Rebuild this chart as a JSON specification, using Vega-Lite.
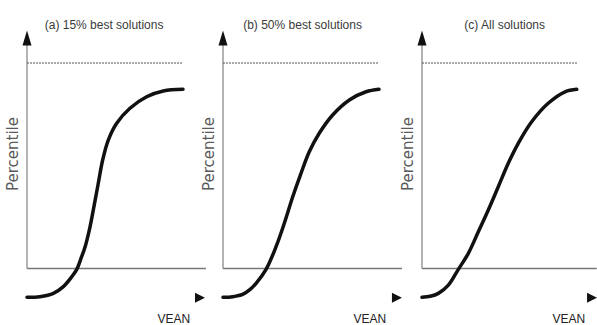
{
  "$schema": "https://vega.github.io/schema/vega-lite/v6.json",
  "padding": 0,
  "spacing": 0,
  "bounds": "flush",
  "background": "white",
  "config": {"view": {"stroke": null}},
  "data": {
    "values": [
      {"panel": "a", "kind": "yaxis", "x": 0, "y": 0, "y2": 1.09},
      {"panel": "a", "kind": "xaxis", "x": 0, "x2": 1.147, "y": 0},
      {"panel": "a", "kind": "ref", "x": 0, "x2": 0.994, "y": 1},
      {"panel": "a", "kind": "uparrow", "x": 0, "y": 1.122},
      {"panel": "a", "kind": "rightarrow", "x": 1.109, "y": -0.142},
      {"panel": "a", "kind": "title", "x": 0.494, "y": 1.185, "text": "(a) 15% best solutions"},
      {"panel": "a", "kind": "xlabel", "x": 0.942, "y": -0.246, "text": "VEAN"},
      {"panel": "a", "kind": "ylabel", "x": -0.09, "y": 0.557, "text": "Percentile"},
      {"panel": "a", "kind": "curve", "i": 0, "x": 0.0, "y": -0.14},
      {"panel": "a", "kind": "curve", "i": 1, "x": 0.083, "y": -0.137},
      {"panel": "a", "kind": "curve", "i": 2, "x": 0.169, "y": -0.121},
      {"panel": "a", "kind": "curve", "i": 3, "x": 0.233, "y": -0.088},
      {"panel": "a", "kind": "curve", "i": 4, "x": 0.287, "y": -0.04},
      {"panel": "a", "kind": "curve", "i": 5, "x": 0.319, "y": -0.004},
      {"panel": "a", "kind": "curve", "i": 6, "x": 0.349, "y": 0.055},
      {"panel": "a", "kind": "curve", "i": 7, "x": 0.374, "y": 0.11},
      {"panel": "a", "kind": "curve", "i": 8, "x": 0.404, "y": 0.203},
      {"panel": "a", "kind": "curve", "i": 9, "x": 0.429, "y": 0.301},
      {"panel": "a", "kind": "curve", "i": 10, "x": 0.457, "y": 0.415},
      {"panel": "a", "kind": "curve", "i": 11, "x": 0.485, "y": 0.528},
      {"panel": "a", "kind": "curve", "i": 12, "x": 0.521, "y": 0.625},
      {"panel": "a", "kind": "curve", "i": 13, "x": 0.575, "y": 0.707},
      {"panel": "a", "kind": "curve", "i": 14, "x": 0.66, "y": 0.78},
      {"panel": "a", "kind": "curve", "i": 15, "x": 0.767, "y": 0.836},
      {"panel": "a", "kind": "curve", "i": 16, "x": 0.874, "y": 0.864},
      {"panel": "a", "kind": "curve", "i": 17, "x": 1.0, "y": 0.872},

      {"panel": "b", "kind": "yaxis", "x": 0, "y": 0, "y2": 1.09},
      {"panel": "b", "kind": "xaxis", "x": 0, "x2": 1.147, "y": 0},
      {"panel": "b", "kind": "ref", "x": 0, "x2": 0.994, "y": 1},
      {"panel": "b", "kind": "uparrow", "x": 0, "y": 1.122},
      {"panel": "b", "kind": "rightarrow", "x": 1.115, "y": -0.142},
      {"panel": "b", "kind": "title", "x": 0.51, "y": 1.185, "text": "(b) 50% best solutions"},
      {"panel": "b", "kind": "xlabel", "x": 0.942, "y": -0.246, "text": "VEAN"},
      {"panel": "b", "kind": "ylabel", "x": -0.09, "y": 0.557, "text": "Percentile"},
      {"panel": "b", "kind": "curve", "i": 0, "x": 0.0, "y": -0.14},
      {"panel": "b", "kind": "curve", "i": 1, "x": 0.063, "y": -0.137},
      {"panel": "b", "kind": "curve", "i": 2, "x": 0.126, "y": -0.126},
      {"panel": "b", "kind": "curve", "i": 3, "x": 0.172, "y": -0.103},
      {"panel": "b", "kind": "curve", "i": 4, "x": 0.212, "y": -0.072},
      {"panel": "b", "kind": "curve", "i": 5, "x": 0.276, "y": -0.004},
      {"panel": "b", "kind": "curve", "i": 6, "x": 0.34, "y": 0.106},
      {"panel": "b", "kind": "curve", "i": 7, "x": 0.393, "y": 0.22},
      {"panel": "b", "kind": "curve", "i": 8, "x": 0.447, "y": 0.349},
      {"panel": "b", "kind": "curve", "i": 9, "x": 0.5, "y": 0.463},
      {"panel": "b", "kind": "curve", "i": 10, "x": 0.553, "y": 0.568},
      {"panel": "b", "kind": "curve", "i": 11, "x": 0.617, "y": 0.658},
      {"panel": "b", "kind": "curve", "i": 12, "x": 0.703, "y": 0.747},
      {"panel": "b", "kind": "curve", "i": 13, "x": 0.81, "y": 0.82},
      {"panel": "b", "kind": "curve", "i": 14, "x": 0.917, "y": 0.86},
      {"panel": "b", "kind": "curve", "i": 15, "x": 1.0, "y": 0.872},

      {"panel": "c", "kind": "yaxis", "x": 0, "y": 0, "y2": 1.09},
      {"panel": "c", "kind": "xaxis", "x": 0, "x2": 1.12, "y": 0},
      {"panel": "c", "kind": "ref", "x": 0, "x2": 0.994, "y": 1},
      {"panel": "c", "kind": "uparrow", "x": 0, "y": 1.122},
      {"panel": "c", "kind": "rightarrow", "x": 1.09, "y": -0.142},
      {"panel": "c", "kind": "title", "x": 0.53, "y": 1.185, "text": "(c) All solutions"},
      {"panel": "c", "kind": "xlabel", "x": 0.942, "y": -0.246, "text": "VEAN"},
      {"panel": "c", "kind": "ylabel", "x": -0.09, "y": 0.557, "text": "Percentile"},
      {"panel": "c", "kind": "curve", "i": 0, "x": 0.0, "y": -0.14},
      {"panel": "c", "kind": "curve", "i": 1, "x": 0.053, "y": -0.135},
      {"panel": "c", "kind": "curve", "i": 2, "x": 0.105, "y": -0.121},
      {"panel": "c", "kind": "curve", "i": 3, "x": 0.169, "y": -0.081},
      {"panel": "c", "kind": "curve", "i": 4, "x": 0.233, "y": -0.004},
      {"panel": "c", "kind": "curve", "i": 5, "x": 0.297, "y": 0.074},
      {"panel": "c", "kind": "curve", "i": 6, "x": 0.361, "y": 0.179},
      {"panel": "c", "kind": "curve", "i": 7, "x": 0.425, "y": 0.285},
      {"panel": "c", "kind": "curve", "i": 8, "x": 0.489, "y": 0.398},
      {"panel": "c", "kind": "curve", "i": 9, "x": 0.553, "y": 0.512},
      {"panel": "c", "kind": "curve", "i": 10, "x": 0.617, "y": 0.609},
      {"panel": "c", "kind": "curve", "i": 11, "x": 0.703, "y": 0.714},
      {"panel": "c", "kind": "curve", "i": 12, "x": 0.809, "y": 0.804},
      {"panel": "c", "kind": "curve", "i": 13, "x": 0.917, "y": 0.86},
      {"panel": "c", "kind": "curve", "i": 14, "x": 0.992, "y": 0.872}
    ]
  },
  "hconcat": [
    {
      "width": 196,
      "height": 325,
      "transform": [{"filter": "datum.panel == 'a'"}],
      "encoding": {
        "x": {"field": "x", "type": "quantitative", "axis": null, "scale": {"domain": [-0.1731, 1.0833], "nice": false, "zero": false}},
        "y": {"field": "y", "type": "quantitative", "axis": null, "scale": {"domain": [-0.2749, 1.3066], "nice": false, "zero": false}}
      },
      "layer": [
        {"transform": [{"filter": "datum.kind == 'yaxis'"}], "mark": {"type": "rule", "color": "#8a8a8a", "strokeWidth": 1.3}, "encoding": {"y2": {"field": "y2"}}},
        {"transform": [{"filter": "datum.kind == 'xaxis'"}], "mark": {"type": "rule", "color": "#777777", "strokeWidth": 1.3}, "encoding": {"x2": {"field": "x2"}}},
        {"transform": [{"filter": "datum.kind == 'ref'"}], "mark": {"type": "rule", "color": "#555555", "strokeWidth": 1, "strokeDash": [2, 1]}, "encoding": {"x2": {"field": "x2"}}},
        {"transform": [{"filter": "datum.kind == 'curve'"}], "mark": {"type": "line", "color": "#111111", "strokeWidth": 3.5, "interpolate": "catmull-rom", "strokeCap": "round", "strokeJoin": "round"}, "encoding": {"order": {"field": "i"}}},
        {"transform": [{"filter": "datum.kind == 'uparrow'"}], "mark": {"type": "point", "shape": "M-0.6,1L0,-1L0.6,1Z", "size": 225, "filled": true, "color": "#111111", "opacity": 1}},
        {"transform": [{"filter": "datum.kind == 'rightarrow'"}], "mark": {"type": "point", "shape": "M-1,-1L1,0L-1,1Z", "size": 100, "filled": true, "color": "#111111", "opacity": 1}},
        {"transform": [{"filter": "datum.kind == 'title'"}], "mark": {"type": "text", "font": "Liberation Sans", "fontSize": 12, "color": "#3a3a3a", "baseline": "middle", "align": "center"}, "encoding": {"text": {"field": "text"}}},
        {"transform": [{"filter": "datum.kind == 'xlabel'"}], "mark": {"type": "text", "font": "Liberation Sans", "fontSize": 12, "color": "#222222", "baseline": "middle", "align": "center"}, "encoding": {"text": {"field": "text"}}},
        {"transform": [{"filter": "datum.kind == 'ylabel'"}], "mark": {"type": "text", "font": "DejaVu Sans", "fontSize": 15, "color": "#5a5a5a", "baseline": "middle", "align": "center", "angle": 270}, "encoding": {"text": {"field": "text"}}}
      ]
    },
    {
      "width": 199,
      "height": 325,
      "transform": [{"filter": "datum.panel == 'b'"}],
      "encoding": {
        "x": {"field": "x", "type": "quantitative", "axis": null, "scale": {"domain": [-0.1731, 1.1026], "nice": false, "zero": false}},
        "y": {"field": "y", "type": "quantitative", "axis": null, "scale": {"domain": [-0.2749, 1.3066], "nice": false, "zero": false}}
      },
      "layer": [
        {"transform": [{"filter": "datum.kind == 'yaxis'"}], "mark": {"type": "rule", "color": "#8a8a8a", "strokeWidth": 1.3}, "encoding": {"y2": {"field": "y2"}}},
        {"transform": [{"filter": "datum.kind == 'xaxis'"}], "mark": {"type": "rule", "color": "#777777", "strokeWidth": 1.3}, "encoding": {"x2": {"field": "x2"}}},
        {"transform": [{"filter": "datum.kind == 'ref'"}], "mark": {"type": "rule", "color": "#555555", "strokeWidth": 1, "strokeDash": [2, 1]}, "encoding": {"x2": {"field": "x2"}}},
        {"transform": [{"filter": "datum.kind == 'curve'"}], "mark": {"type": "line", "color": "#111111", "strokeWidth": 3.5, "interpolate": "catmull-rom", "strokeCap": "round", "strokeJoin": "round"}, "encoding": {"order": {"field": "i"}}},
        {"transform": [{"filter": "datum.kind == 'uparrow'"}], "mark": {"type": "point", "shape": "M-0.6,1L0,-1L0.6,1Z", "size": 225, "filled": true, "color": "#111111", "opacity": 1}},
        {"transform": [{"filter": "datum.kind == 'rightarrow'"}], "mark": {"type": "point", "shape": "M-1,-1L1,0L-1,1Z", "size": 100, "filled": true, "color": "#111111", "opacity": 1}},
        {"transform": [{"filter": "datum.kind == 'title'"}], "mark": {"type": "text", "font": "Liberation Sans", "fontSize": 12, "color": "#3a3a3a", "baseline": "middle", "align": "center"}, "encoding": {"text": {"field": "text"}}},
        {"transform": [{"filter": "datum.kind == 'xlabel'"}], "mark": {"type": "text", "font": "Liberation Sans", "fontSize": 12, "color": "#222222", "baseline": "middle", "align": "center"}, "encoding": {"text": {"field": "text"}}},
        {"transform": [{"filter": "datum.kind == 'ylabel'"}], "mark": {"type": "text", "font": "DejaVu Sans", "fontSize": 15, "color": "#5a5a5a", "baseline": "middle", "align": "center", "angle": 270}, "encoding": {"text": {"field": "text"}}}
      ]
    },
    {
      "width": 202,
      "height": 325,
      "transform": [{"filter": "datum.panel == 'c'"}],
      "encoding": {
        "x": {"field": "x", "type": "quantitative", "axis": null, "scale": {"domain": [-0.1731, 1.1218], "nice": false, "zero": false}},
        "y": {"field": "y", "type": "quantitative", "axis": null, "scale": {"domain": [-0.2749, 1.3066], "nice": false, "zero": false}}
      },
      "layer": [
        {"transform": [{"filter": "datum.kind == 'yaxis'"}], "mark": {"type": "rule", "color": "#8a8a8a", "strokeWidth": 1.3}, "encoding": {"y2": {"field": "y2"}}},
        {"transform": [{"filter": "datum.kind == 'xaxis'"}], "mark": {"type": "rule", "color": "#777777", "strokeWidth": 1.3}, "encoding": {"x2": {"field": "x2"}}},
        {"transform": [{"filter": "datum.kind == 'ref'"}], "mark": {"type": "rule", "color": "#555555", "strokeWidth": 1, "strokeDash": [2, 1]}, "encoding": {"x2": {"field": "x2"}}},
        {"transform": [{"filter": "datum.kind == 'curve'"}], "mark": {"type": "line", "color": "#111111", "strokeWidth": 3.5, "interpolate": "catmull-rom", "strokeCap": "round", "strokeJoin": "round"}, "encoding": {"order": {"field": "i"}}},
        {"transform": [{"filter": "datum.kind == 'uparrow'"}], "mark": {"type": "point", "shape": "M-0.6,1L0,-1L0.6,1Z", "size": 225, "filled": true, "color": "#111111", "opacity": 1}},
        {"transform": [{"filter": "datum.kind == 'rightarrow'"}], "mark": {"type": "point", "shape": "M-1,-1L1,0L-1,1Z", "size": 100, "filled": true, "color": "#111111", "opacity": 1}},
        {"transform": [{"filter": "datum.kind == 'title'"}], "mark": {"type": "text", "font": "Liberation Sans", "fontSize": 12, "color": "#3a3a3a", "baseline": "middle", "align": "center"}, "encoding": {"text": {"field": "text"}}},
        {"transform": [{"filter": "datum.kind == 'xlabel'"}], "mark": {"type": "text", "font": "Liberation Sans", "fontSize": 12, "color": "#222222", "baseline": "middle", "align": "center"}, "encoding": {"text": {"field": "text"}}},
        {"transform": [{"filter": "datum.kind == 'ylabel'"}], "mark": {"type": "text", "font": "DejaVu Sans", "fontSize": 15, "color": "#5a5a5a", "baseline": "middle", "align": "center", "angle": 270}, "encoding": {"text": {"field": "text"}}}
      ]
    }
  ]
}
